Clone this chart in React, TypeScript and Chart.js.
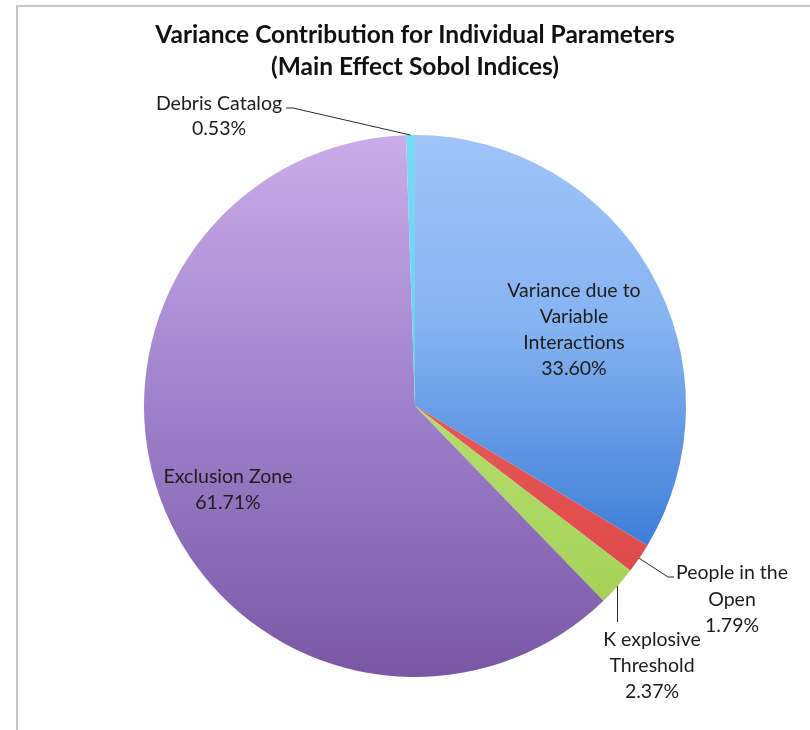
import React, { useEffect, useRef } from "react";
import { Chart, registerables } from "chart.js";

Chart.register(...registerables);

// Data
const titleLines = ["Variance Contribution for Individual Parameters", "(Main Effect Sobol Indices)"];
const categories = [
  "Variance due to Variable Interactions",
  "People in the Open",
  "K explosive Threshold",
  "Exclusion Zone",
  "Debris Catalog",
];
const shares = [33.6, 1.79, 2.37, 61.71, 0.53];
const labelLines = [
  ["Variance due to", "Variable", "Interactions"],
  ["People in the", "Open"],
  ["K explosive", "Threshold"],
  ["Exclusion Zone"],
  ["Debris Catalog"],
];

// Vertical gradient stops for each slice, measured over the pie's box
const sliceGradients: [number, string][][] = [
  [[0, "#a0c4f9"], [0.35, "#86b3f1"], [0.78, "#3a7bd6"], [1, "#3070cc"]],
  [[0, "#f07272"], [0.8, "#df4a4a"], [1, "#c83838"]],
  [[0, "#c6ea82"], [0.82, "#a8d45c"], [1, "#93c246"]],
  [[0, "#caace9"], [0.5, "#9f81cb"], [1, "#7957a5"]],
  [[0, "#7ad9f3"], [1, "#5cc9ea"]],
];

// Label placement, offsets from the pie centre (first text line centre)
type Leader =
  | { kind: "none" }
  | { kind: "elbow"; elbow: [number, number]; end: [number, number] }
  | { kind: "drop"; toDy: number };
const labelLayout: { dx: number; dy: number; lineGap: number; leader: Leader }[] = [
  { dx: 159, dy: -115, lineGap: 26, leader: { kind: "none" } },
  { dx: 317, dy: 167, lineGap: 26.5, leader: { kind: "elbow", elbow: [253, 171], end: [259, 171] } },
  { dx: 237, dy: 234, lineGap: 25.8, leader: { kind: "drop", toDy: 216 } },
  { dx: -187, dy: 71, lineGap: 26, leader: { kind: "none" } },
  { dx: -196, dy: -302, lineGap: 24.5, leader: { kind: "elbow", elbow: [-122, -298], end: [-129, -298] } },
];

const FONT = "Lato, 'Open Sans', sans-serif";
const TEXT_COLOR = "#1c1c1c";

const decorPlugin = {
  id: "pieDecor",
  beforeDraw(chart: any) {
    const ctx: CanvasRenderingContext2D = chart.ctx;
    ctx.save();
    ctx.fillStyle = "#ffffff";
    ctx.fillRect(0, 0, chart.width, chart.height);
    // chart frame (top and left edges)
    ctx.fillStyle = "#c4c4c4";
    ctx.fillRect(16, 5, chart.width - 16, 2);
    ctx.fillRect(16, 5, 2, chart.height - 5);
    ctx.restore();
  },
  afterDatasetsDraw(chart: any) {
    const ctx: CanvasRenderingContext2D = chart.ctx;
    ctx.save();
    // title
    ctx.fillStyle = "#111111";
    ctx.textAlign = "center";
    ctx.textBaseline = "alphabetic";
    ctx.font = `bold 24.5px ${FONT}`;
    ctx.fillText(titleLines[0], 415, 43);
    ctx.fillText(titleLines[1], 415, 75);

    const meta = chart.getDatasetMeta(0);
    meta.data.forEach((arc: any, i: number) => {
      const { x, y, startAngle, endAngle, outerRadius } = arc.getProps(
        ["x", "y", "startAngle", "endAngle", "outerRadius"],
        true
      );
      const mid = (startAngle + endAngle) / 2;
      const ex = x + Math.cos(mid) * outerRadius;
      const ey = y + Math.sin(mid) * outerRadius;
      const lay = labelLayout[i];

      ctx.strokeStyle = "#2a2a2a";
      ctx.lineWidth = 1;
      if (lay.leader.kind === "elbow") {
        ctx.beginPath();
        ctx.moveTo(ex, ey);
        ctx.lineTo(x + lay.leader.elbow[0], y + lay.leader.elbow[1]);
        ctx.lineTo(x + lay.leader.end[0], y + lay.leader.end[1]);
        ctx.stroke();
      } else if (lay.leader.kind === "drop") {
        ctx.beginPath();
        ctx.moveTo(Math.round(ex) + 0.5, ey);
        ctx.lineTo(Math.round(ex) + 0.5, y + lay.leader.toDy);
        ctx.stroke();
      }

      const lines = [...labelLines[i], `${shares[i].toFixed(2)}%`];
      ctx.fillStyle = TEXT_COLOR;
      ctx.font = `19.5px ${FONT}`;
      ctx.textAlign = "center";
      ctx.textBaseline = "middle";
      lines.forEach((t, k) => {
        ctx.fillText(t, x + lay.dx, y + lay.dy + k * lay.lineGap);
      });
    });
    ctx.restore();
  },
};

export default function App() {
  const canvasRef = useRef<HTMLCanvasElement | null>(null);

  useEffect(() => {
    const canvas = canvasRef.current;
    if (!canvas) return;
    const chart = new Chart(canvas, {
      type: "pie",
      data: {
        labels: categories,
        datasets: [
          {
            data: shares,
            borderWidth: 0,
            backgroundColor: (c: any) => {
              const ch = c.chart;
              const area = ch.chartArea;
              const stops = sliceGradients[c.dataIndex] || sliceGradients[0];
              if (!area) return stops[0][1];
              const g = ch.ctx.createLinearGradient(0, area.top, 0, area.bottom);
              stops.forEach(([o, col]) => g.addColorStop(o, col));
              return g;
            },
          },
        ],
      },
      options: {
        responsive: false,
        maintainAspectRatio: false,
        animation: false,
        layout: { padding: { left: 144, right: 124, top: 135, bottom: 53 } },
        plugins: {
          legend: { display: false },
          tooltip: { enabled: false },
          title: { display: false },
        },
      },
      plugins: [decorPlugin],
    });
    return () => chart.destroy();
  }, []);

  return (
    <div style={{ position: "absolute", left: 0, top: 0, width: 810, height: 730, background: "#fff" }}>
      <canvas ref={canvasRef} width={810} height={730} style={{ display: "block" }} />
    </div>
  );
}
